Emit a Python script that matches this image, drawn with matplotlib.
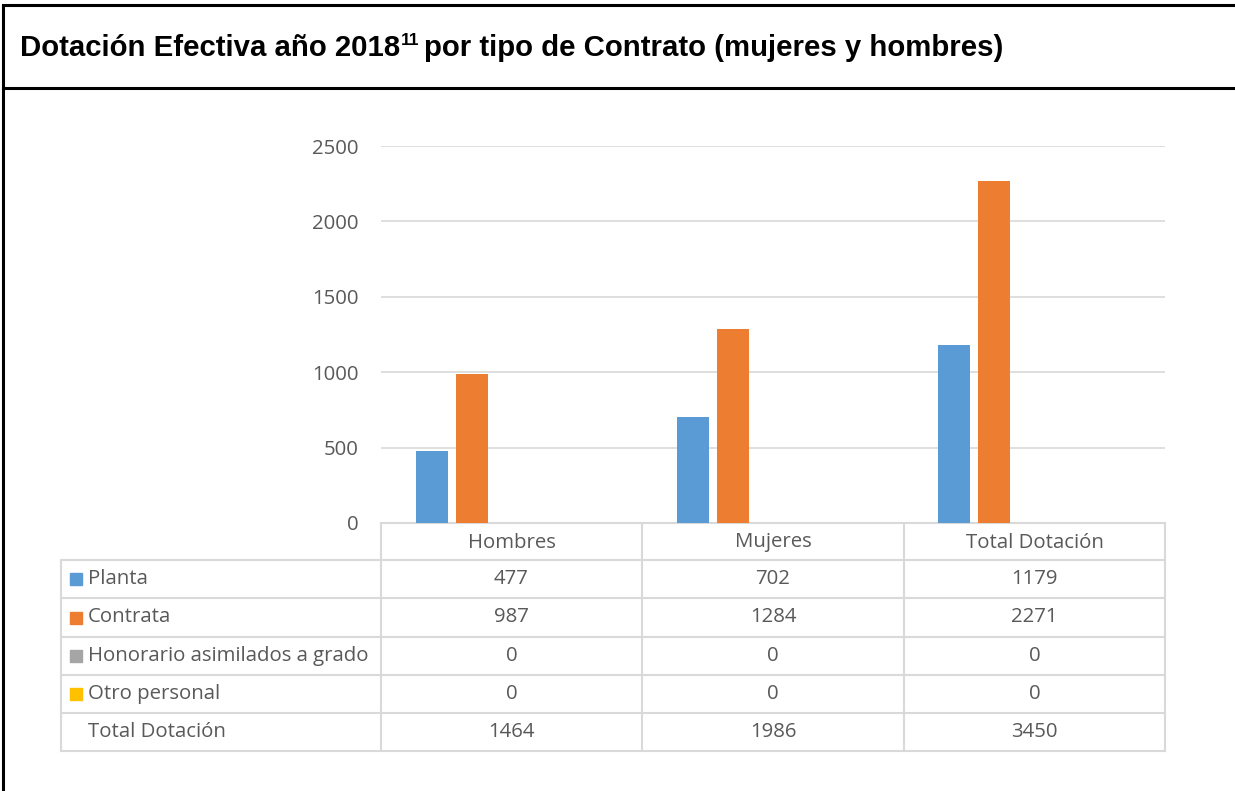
import matplotlib
matplotlib.use("Agg")
import matplotlib.pyplot as plt
import numpy as np

# data
categories = ["Hombres", "Mujeres", "Total Dotación"]
series_names = ["Planta", "Contrata", "Honorario asimilados a grado", "Otro personal", "Total Dotación"]
planta = [477, 702, 1179]
contrata = [987, 1284, 2271]
honorario = [0, 0, 0]
otro = [0, 0, 0]
total = [1464, 1986, 3450]
series_values = [planta, contrata, honorario, otro, total]
series_colors = ["#5b9bd5", "#ed7d31", "#a5a5a5", "#ffc000", None]
yticks = [0, 500, 1000, 1500, 2000, 2500]

W, H = 1235, 791
fig = plt.figure(figsize=(W / 100, H / 100), dpi=100)

GRAY_TXT = "#595959"
GRID = "#d9d9d9"
chart_font = "Open Sans"
FS = 14.7

# pixel helper -> figure fraction
def px(x0, y0, x1, y1):
    return [x0 / W, 1 - y1 / H, (x1 - x0) / W, (y1 - y0) / H]

# overlay axes in pixel coords
ov = fig.add_axes([0, 0, 1, 1])
ov.set_xlim(0, W)
ov.set_ylim(H, 0)
ov.axis("off")

# outer frame
ov.plot([3, 3], [5, H], color="black", lw=2.2, solid_capstyle="butt")
ov.plot([3, W], [5, 5], color="black", lw=2.2)
ov.plot([3, W], [88, 88], color="black", lw=2.2)

# title with superscript
r = fig.canvas.get_renderer()
t1 = ov.text(20, 56, "Dotación Efectiva año 2018", fontsize=21.2, fontweight="bold",
             family="Liberation Sans", va="baseline", ha="left")
bb = t1.get_window_extent(r)
t2 = fig.text(bb.x1 / W + 1 / W, 1 - 45 / H, "11", fontsize=12.5, fontweight="bold",
              family="Liberation Sans", va="baseline", ha="left")
bb2 = t2.get_window_extent(r)
fig.text(bb2.x1 / W + 4 / W, 1 - 56 / H, "por tipo de Contrato (mujeres y hombres)",
         fontsize=21.2, fontweight="bold", family="Liberation Sans", va="baseline", ha="left")

# bar chart
ax = fig.add_axes(px(381, 146, 1165, 523))
x = np.arange(len(categories))
slot = 40 / 261.3
bw = 32 / 261.3
n = len(series_values)
for i, (vals, col) in enumerate(zip(series_values, series_colors)):
    off = (i - (n - 1) / 2) * slot
    if col is None:
        continue
    ax.bar(x + off, vals, bw, color=col, zorder=3)
ax.set_xlim(-0.5, len(categories) - 0.5)
ax.set_ylim(0, 2500)
ax.set_yticks(yticks)
ax.set_yticklabels([str(v) for v in yticks], fontsize=FS, color=GRAY_TXT, family=chart_font)
ax.tick_params(axis="y", length=0, pad=16)
ax.set_xticks([])
ax.grid(axis="y", color=GRID, lw=1.2, zorder=0)
for s in ["top", "right", "left"]:
    ax.spines[s].set_visible(False)
ax.spines["bottom"].set_color(GRID)
ax.spines["bottom"].set_linewidth(1.5)

# data table
col_edges = [381, 642, 904, 1165]
left_edge = 61
row_edges = [523, 560, 598, 637, 675, 713, 751]
lw_t = 1.5
for xe in col_edges:
    ov.plot([xe, xe], [row_edges[0], row_edges[-1]], color=GRID, lw=lw_t, zorder=1)
ov.plot([left_edge, left_edge], [row_edges[1], row_edges[-1]], color=GRID, lw=lw_t)
for ye in row_edges[1:]:
    ov.plot([left_edge, col_edges[-1]], [ye, ye], color=GRID, lw=lw_t)
for j, cat in enumerate(categories):
    cx = (col_edges[j] + col_edges[j + 1]) / 2
    cy = (row_edges[0] + row_edges[1]) / 2 + 1
    ov.text(cx, cy, cat, ha="center", va="center", fontsize=FS, color=GRAY_TXT, family=chart_font)
for i, (name, vals, col) in enumerate(zip(series_names, series_values, series_colors)):
    cy = (row_edges[i + 1] + row_edges[i + 2]) / 2
    if col is not None:
        ov.add_patch(plt.Rectangle((70, cy - 6), 12, 12, color=col))
    ov.text(88, cy, name, ha="left", va="center", fontsize=FS, color=GRAY_TXT, family=chart_font)
    for j, v in enumerate(vals):
        cx = (col_edges[j] + col_edges[j + 1]) / 2
        ov.text(cx, cy, str(v), ha="center", va="center", fontsize=FS, color=GRAY_TXT, family=chart_font)

fig.savefig("out.png", dpi=100)
